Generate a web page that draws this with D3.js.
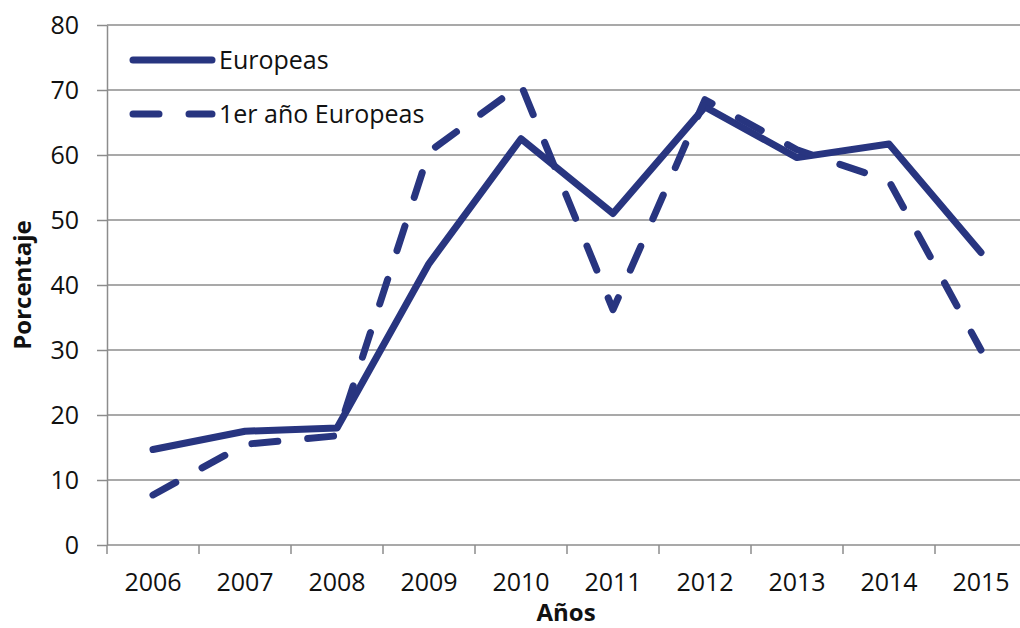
<!DOCTYPE html>
<html lang="es">
<head>
<meta charset="utf-8">
<title>Porcentaje Europeas</title>
<script src="https://d3js.org/d3.v7.min.js"></script>
<style type="text/css">
body { margin: 0; background: #fff; }
text { font-family: "Open Sans", sans-serif; fill: #111; }
.grid line { stroke: #8c8c8c; stroke-width: 1.5px; }
.axis path, .axis line { stroke: #8c8c8c; stroke-width: 1.5px; }
.axis text { font-size: 25px; }
.serie { fill: none; stroke: #283580; stroke-width: 7px; stroke-linecap: round; stroke-linejoin: round; }
.dashed { stroke-dasharray: 26, 30; }
.title { font-weight: bold; font-size: 24px; }
</style>
</head>
<body>
<script type="text/javascript">
"use strict";

var years = ["2006", "2007", "2008", "2009", "2010", "2011", "2012", "2013", "2014", "2015"];
var europeas = [14.7, 17.5, 18, 43.3, 62.5, 51, 67.4, 59.6, 61.7, 45];
var primerAnio = [7.7, 15.5, 16.8, 60.5, 70.8, 36.2, 68.5, 60.8, 56, 30];
var yTicks = [0, 10, 20, 30, 40, 50, 60, 70, 80];

var width = 1020, height = 628;
var plotLeft = 107, plotRight = 1027, plotTop = 25, plotBottom = 545;

var svg = d3.select("body").append("svg")
    .attr("width", width)
    .attr("height", height);

var x = d3.scalePoint().domain(years).range([plotLeft, plotRight]).padding(0.5);
var y = d3.scaleLinear().domain([0, 80]).range([plotBottom, plotTop]);

// horizontal gridlines
svg.append("g").attr("class", "grid")
  .selectAll("line")
  .data(yTicks.filter(function(d) { return d > 0; }))
  .enter().append("line")
    .attr("x1", plotLeft).attr("x2", plotRight)
    .attr("y1", function(d) { return y(d); })
    .attr("y2", function(d) { return y(d); });

// y axis
svg.append("g").attr("class", "axis")
    .attr("transform", "translate(" + plotLeft + ",0)")
    .call(d3.axisLeft(y).tickValues(yTicks).tickSize(10).tickSizeOuter(0).tickPadding(18));

// x axis, ticks between categories
var step = x.step();
var xAxis = svg.append("g").attr("class", "axis")
    .attr("transform", "translate(0," + plotBottom + ")");
xAxis.append("line").attr("x1", plotLeft).attr("x2", plotRight);
xAxis.selectAll(".tk")
  .data(d3.range(years.length + 1))
  .enter().append("line")
    .attr("class", "tk")
    .attr("x1", function(i) { return plotLeft + i * step; })
    .attr("x2", function(i) { return plotLeft + i * step; })
    .attr("y1", 0).attr("y2", 9);
xAxis.selectAll(".lbl")
  .data(years)
  .enter().append("text")
    .attr("class", "lbl")
    .attr("x", function(d) { return x(d); })
    .attr("y", 46)
    .attr("text-anchor", "middle")
    .style("font-size", "25px")
    .text(function(d) { return d; });

svg.append("text").attr("class", "title")
    .attr("x", 566).attr("y", 621)
    .attr("text-anchor", "middle")
    .text("Años");

svg.append("text").attr("class", "title")
    .attr("transform", "translate(31," + ((plotTop + plotBottom) / 2) + ") rotate(-90)")
    .attr("text-anchor", "middle")
    .text("Porcentaje");

var line = d3.line()
    .x(function(d, i) { return x(years[i]); })
    .y(function(d) { return y(d); });

svg.append("path").datum(europeas).attr("class", "serie").attr("d", line);
svg.append("path").datum(primerAnio).attr("class", "serie dashed").attr("d", line);

// legend
var legend = [
  { name: "Europeas", cls: "serie", ly: 60 },
  { name: "1er año Europeas", cls: "serie dashed", ly: 114 }
];
var lg = svg.append("g").selectAll("g").data(legend).enter().append("g");
lg.append("line")
    .attr("class", function(d) { return d.cls; })
    .attr("x1", 133).attr("x2", 212)
    .attr("y1", function(d) { return d.ly; })
    .attr("y2", function(d) { return d.ly; });
lg.append("text")
    .attr("x", 219)
    .attr("y", function(d) { return d.ly + 9; })
    .style("font-size", "25px")
    .text(function(d) { return d.name; });
</script>
</body>
</html>
